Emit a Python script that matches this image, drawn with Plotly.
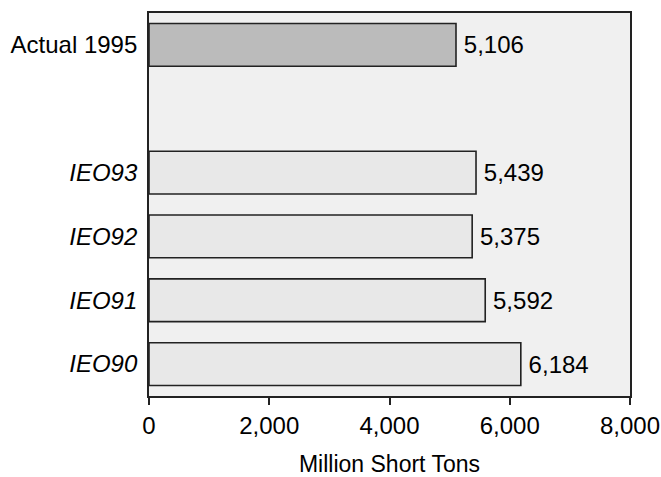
import plotly.graph_objects as go

categories = ["IEO90", "IEO91", "IEO92", "IEO93", " ", "Actual 1995"]
tick_labels = ["<i>IEO90</i>", "<i>IEO91</i>", "<i>IEO92</i>", "<i>IEO93</i>", "", "Actual 1995"]
forecast_cats = ["IEO90", "IEO91", "IEO92", "IEO93"]
forecast_vals = [6184, 5592, 5375, 5439]
actual_cats = ["Actual 1995"]
actual_vals = [5106]
x_ticks = [0, 2000, 4000, 6000, 8000]

font = "Liberation Sans, Arial, sans-serif"
edge = "#222222"

fig = go.Figure()
fig.add_trace(go.Bar(
    y=forecast_cats, x=forecast_vals, orientation="h",
    marker=dict(color="#e8e8e8", line=dict(color=edge, width=1.6)),
    text=forecast_vals, texttemplate="\u2009%{x:,}", textposition="outside",
    textfont=dict(size=24, color="#000000", family=font),
    cliponaxis=False, width=0.67, showlegend=False,
))
fig.add_trace(go.Bar(
    y=actual_cats, x=actual_vals, orientation="h",
    marker=dict(color="#bbbbbb", line=dict(color=edge, width=1.6)),
    text=actual_vals, texttemplate="\u2009%{x:,}", textposition="outside",
    textfont=dict(size=24, color="#000000", family=font),
    cliponaxis=False, width=0.67, showlegend=False,
))

fig.update_layout(
    width=661, height=477,
    margin=dict(l=149, r=31, t=13, b=81),
    paper_bgcolor="white", plot_bgcolor="#f0f0f0",
    barmode="overlay",
    font=dict(family=font, size=24, color="#000000"),
)
fig.update_xaxes(
    range=[0, 8000], tickvals=x_ticks, tickformat=",",
    ticks="outside", ticklen=7, tickwidth=1.6, tickcolor=edge,
    showgrid=False, zeroline=False, automargin=False,
    showline=True, linecolor=edge, linewidth=1.8, mirror=True,
    title=dict(text="Million Short Tons", font=dict(size=23), standoff=21),
    tickfont=dict(size=24),
)
fig.update_yaxes(
    type="category", categoryorder="array", categoryarray=categories,
    tickvals=categories, ticktext=tick_labels,
    range=[-0.5, 5.5], automargin=False,
    showgrid=False, zeroline=False,
    ticks="outside", ticklen=5, tickcolor="rgba(0,0,0,0)",
    showline=True, linecolor=edge, linewidth=1.8, mirror=True,
    tickfont=dict(size=24),
)

fig.write_html(
    "out.html",
    config={"displayModeBar": False},
    post_script="document.body.style.margin='0';document.body.style.overflow='hidden';",
)
